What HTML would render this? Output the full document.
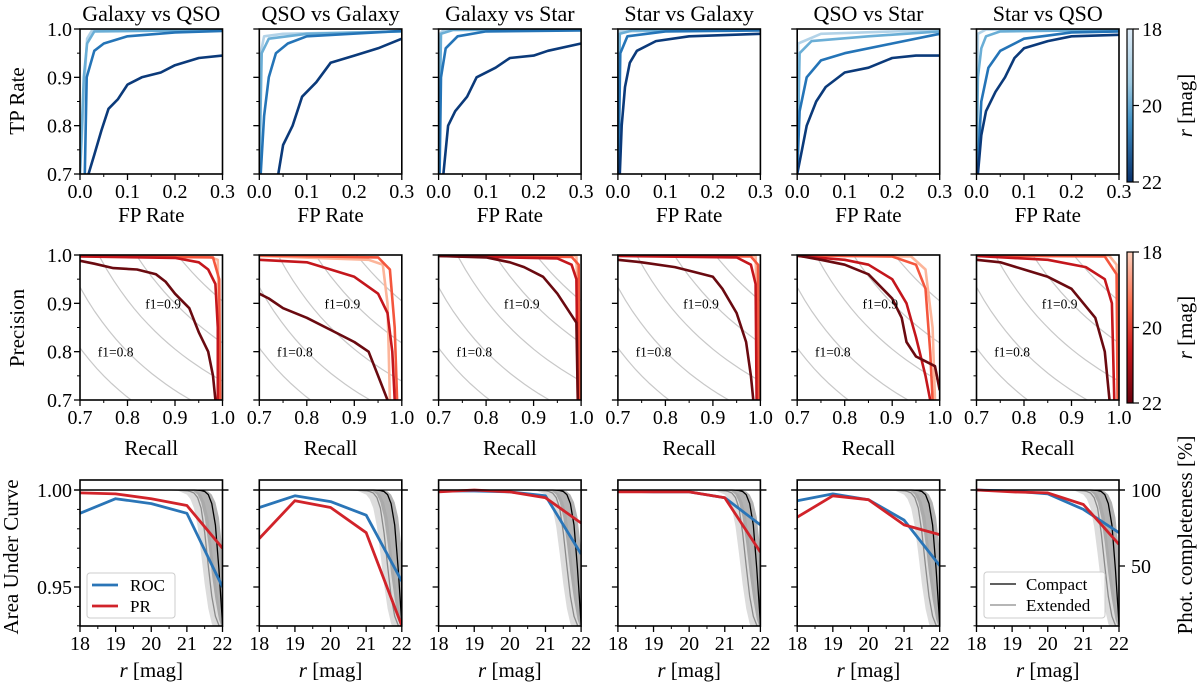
<!DOCTYPE html>
<html><head><meta charset="utf-8"><style>
html,body{margin:0;padding:0;background:#fff;}
svg text{font-family:"Liberation Serif",serif;fill:#000;}
</style></head><body>
<svg id="fig" xmlns="http://www.w3.org/2000/svg" width="1200" height="688" viewBox="0 0 1200 688">
<defs>
<linearGradient id="gBlue" x1="0" y1="0" x2="0" y2="1"><stop offset="0" stop-color="#deebf7"/><stop offset="0.35" stop-color="#9ecae1"/><stop offset="0.6" stop-color="#4292c6"/><stop offset="1" stop-color="#08306b"/></linearGradient>
<linearGradient id="gRed" x1="0" y1="0" x2="0" y2="1"><stop offset="0" stop-color="#fdd0bc"/><stop offset="0.35" stop-color="#fb6a4a"/><stop offset="0.65" stop-color="#cb181d"/><stop offset="1" stop-color="#67000d"/></linearGradient>
</defs>
</svg>
<script>
// ---------- data ----------
const titles = ["Galaxy vs QSO","QSO vs Galaxy","Galaxy vs Star","Star vs Galaxy","QSO vs Star","Star vs QSO"];
const magBins = ["18-19","19-20","20-21","21-22"];
const blueColors = ["#b3d3e8","#6aaed6","#2474b7","#0b3a7a"];
const redColors = ["#fcb59a","#f4563d","#c4161c","#6a0a10"];
// ROC curves [FPR, TPR]
const roc1 = [[[0,0.7],[0.01,0.9],[0.015,0.98],[0.025,0.997],[0.3,0.999]],[[0,0.7],[0.008,0.9],[0.015,0.97],[0.03,0.995],[0.3,0.998]],[[0.01,0.7],[0.014,0.9],[0.03,0.955],[0.05,0.97],[0.1,0.985],[0.2,0.993],[0.3,0.996]],[[0.018,0.7],[0.03,0.74],[0.045,0.79],[0.06,0.835],[0.08,0.855],[0.1,0.885],[0.13,0.9],[0.17,0.91],[0.2,0.925],[0.25,0.94],[0.3,0.945]]];
const roc2 = [[[0,0.7],[0.003,0.95],[0.01,0.985],[0.05,0.99],[0.3,0.995]],[[0,0.7],[0.005,0.95],[0.02,0.98],[0.1,0.99],[0.3,0.995]],[[0.003,0.7],[0.01,0.82],[0.02,0.9],[0.035,0.95],[0.06,0.97],[0.1,0.985],[0.3,0.996]],[[0.04,0.7],[0.05,0.76],[0.07,0.8],[0.09,0.86],[0.12,0.89],[0.15,0.93],[0.2,0.945],[0.25,0.96],[0.3,0.98]]];
const roc3 = [[[0,0.7],[0.003,0.99],[0.01,0.998],[0.3,1.0]],[[0,0.7],[0.005,0.99],[0.03,0.998],[0.3,0.999]],[[0.002,0.7],[0.005,0.9],[0.015,0.96],[0.04,0.985],[0.1,0.995],[0.3,0.997]],[[0.01,0.7],[0.02,0.8],[0.035,0.83],[0.06,0.86],[0.08,0.9],[0.12,0.92],[0.15,0.94],[0.2,0.945],[0.23,0.955],[0.3,0.97]]];
const roc4 = [[[0,0.7],[0.002,0.995],[0.3,0.999]],[[0,0.7],[0.004,0.99],[0.03,0.997],[0.3,0.998]],[[0.001,0.7],[0.005,0.95],[0.02,0.985],[0.1,0.995],[0.3,0.997]],[[0.004,0.7],[0.008,0.8],[0.015,0.88],[0.025,0.93],[0.04,0.955],[0.08,0.975],[0.15,0.985],[0.3,0.99]]];
const roc5 = [[[0,0.7],[0.002,0.97],[0.05,0.99],[0.3,0.998]],[[0,0.7],[0.005,0.95],[0.03,0.975],[0.15,0.985],[0.3,0.995]],[[0,0.7],[0.005,0.83],[0.02,0.9],[0.05,0.935],[0.1,0.95],[0.2,0.97],[0.3,0.99]],[[0,0.7],[0.01,0.75],[0.02,0.8],[0.04,0.85],[0.06,0.88],[0.1,0.91],[0.15,0.92],[0.2,0.94],[0.25,0.945],[0.3,0.945]]];
const roc6 = [[[0,0.7],[0.003,0.99],[0.02,0.999],[0.3,1.0]],[[0,0.7],[0.003,0.9],[0.01,0.96],[0.02,0.985],[0.05,0.995],[0.3,0.998]],[[0.002,0.7],[0.01,0.85],[0.025,0.92],[0.05,0.955],[0.1,0.98],[0.2,0.993],[0.3,0.995]],[[0.003,0.7],[0.01,0.78],[0.02,0.83],[0.04,0.87],[0.06,0.9],[0.08,0.94],[0.1,0.96],[0.15,0.975],[0.2,0.985],[0.3,0.988]]];
// PR curves [Recall, Precision]
const pr1 = [[[0.7,0.998],[0.97,0.997],[0.99,0.99],[0.995,0.7]],[[0.7,0.998],[0.98,0.995],[0.993,0.95],[0.995,0.7]],[[0.7,0.997],[0.9,0.994],[0.95,0.985],[0.97,0.97],[0.985,0.94],[0.99,0.85],[0.99,0.7]],[[0.7,0.988],[0.73,0.982],[0.77,0.973],[0.82,0.97],[0.86,0.96],[0.88,0.945],[0.9,0.92],[0.93,0.89],[0.95,0.84],[0.97,0.8],[0.98,0.75],[0.985,0.7]]];
const pr2 = [[[0.7,0.998],[0.93,0.99],[0.96,0.98],[0.97,0.9],[0.975,0.7]],[[0.7,0.999],[0.95,0.995],[0.975,0.97],[0.985,0.85],[0.99,0.7]],[[0.7,0.99],[0.8,0.985],[0.85,0.97],[0.9,0.955],[0.95,0.92],[0.97,0.88],[0.98,0.8],[0.985,0.7]],[[0.7,0.92],[0.72,0.91],[0.75,0.89],[0.8,0.87],[0.85,0.845],[0.9,0.82],[0.93,0.8],[0.95,0.75],[0.97,0.7]]];
const pr3 = [[[0.7,0.999],[0.99,0.998],[0.998,0.7]],[[0.7,0.999],[0.98,0.996],[0.995,0.98],[0.997,0.7]],[[0.7,0.998],[0.95,0.993],[0.98,0.98],[0.99,0.95],[0.993,0.7]],[[0.7,0.998],[0.8,0.995],[0.85,0.985],[0.88,0.975],[0.92,0.955],[0.95,0.92],[0.97,0.89],[0.99,0.86],[0.993,0.7]]];
const pr4 = [[[0.7,0.999],[0.99,0.998],[0.997,0.7]],[[0.7,0.999],[0.98,0.997],[0.995,0.98],[0.997,0.7]],[[0.7,0.998],[0.95,0.995],[0.98,0.98],[0.99,0.94],[0.992,0.7]],[[0.7,0.99],[0.75,0.985],[0.82,0.975],[0.86,0.965],[0.9,0.955],[0.92,0.93],[0.95,0.88],[0.97,0.82],[0.98,0.75],[0.985,0.7]]];
const pr5 = [[[0.7,0.999],[0.94,0.997],[0.97,0.97],[0.985,0.85],[0.99,0.7]],[[0.7,0.999],[0.9,0.997],[0.95,0.98],[0.97,0.93],[0.98,0.8],[0.985,0.7]],[[0.7,0.998],[0.8,0.99],[0.85,0.98],[0.9,0.95],[0.93,0.9],[0.95,0.83],[0.97,0.75],[0.98,0.7]],[[0.7,0.999],[0.75,0.99],[0.8,0.98],[0.85,0.96],[0.9,0.91],[0.92,0.87],[0.93,0.82],[0.95,0.79],[0.97,0.78],[0.99,0.77],[1.0,0.72]]];
const pr6 = [[[0.7,0.999],[0.98,0.998],[0.995,0.98],[0.998,0.7]],[[0.7,0.999],[0.97,0.997],[0.995,0.96],[0.997,0.7]],[[0.7,0.998],[0.85,0.99],[0.93,0.975],[0.97,0.95],[0.985,0.9],[0.99,0.7]],[[0.7,0.99],[0.75,0.985],[0.8,0.97],[0.85,0.955],[0.9,0.93],[0.95,0.87],[0.97,0.8],[0.98,0.7]]];
const f1Levels = [0.75,0.8,0.85,0.9,0.95];
// AUC vs magnitude
const magCenters = [18,19,20,21,22];
const aucRoc = [[0.988,0.9955,0.993,0.988,0.950],[0.991,0.997,0.994,0.987,0.953],[0.9995,0.9995,0.999,0.997,0.967],[0.9995,0.999,0.999,0.996,0.982],[0.9945,0.998,0.995,0.9845,0.961],[1.0,0.9995,0.998,0.990,0.978]];
const aucPr = [[0.9985,0.998,0.9955,0.992,0.970],[0.975,0.9945,0.991,0.978,0.930],[0.999,1.0,0.999,0.996,0.983],[0.999,0.999,0.999,0.996,0.968],[0.986,0.997,0.995,0.982,0.977],[1.0,0.999,0.9985,0.9925,0.972]];
// photometric completeness [%]
const rGrid = [18,20,20.5,20.75,21,21.1,21.2,21.3,21.4,21.5,21.6,21.7,21.8,21.9,22];
const compact = [100,100,100,100,100,100,100,99.9,99.7,99,97,91,77,48,12];
const compactLo = [100,100,100,100,99.9,99.7,99,97,92,82,65,45,28,15,8];
const compactHi = [100,100,100,100,100,100,100,100,100,99.7,99,97,92,82,60];
const extended = [100,100,100,99.9,99.5,99,98,95,88,72,50,30,17,11,8];
const extLo = [100,100,99.8,99.5,97,94,88,76,58,38,22,12,7,5,4];
const extHi = [100,100,100,100,100,99.8,99.5,99,97,92,82,62,42,25,14];

// ---------- layout ----------
const svg = document.getElementById('fig');
const NS = 'http://www.w3.org/2000/svg';
const colX = [80,259.3,438.6,617.9,797.2,976.5];
const PW = 142.5;
const rows = [{y0:29,y1:174},{y0:255,y1:400},{y0:480,y1:626}];
function el(tag, attrs, parent){const e=document.createElementNS(NS,tag);for(const k in attrs)e.setAttribute(k,attrs[k]);(parent||svg).appendChild(e);return e;}
function txt(s,x,y,size,anchor,parent,rot){const t=el('text',{x:x,y:y,'font-size':size,'text-anchor':anchor||'middle'},parent);if(rot)t.setAttribute('transform','rotate(-90 '+x+' '+y+')');t.textContent=s;return t;}
function lin(a,b,c,d){return v=>c+(v-a)*(d-c)/(b-a);}
function pathOf(pts,sx,sy){return pts.map((p,i)=>(i?'L':'M')+sx(p[0]).toFixed(1)+','+sy(p[1]).toFixed(1)).join('');}
const rocSets=[roc1,roc2,roc3,roc4,roc5,roc6];
const prSets=[pr1,pr2,pr3,pr4,pr5,pr6];
const TICK=20, TITLE=21;

function axesFrame(g,x0,r,xTicks,xMinor,yTicks,yMinor,sx,sy,showY,yFmt,xFmt){
  const fr=el('rect',{x:x0,y:r.y0,width:PW,height:r.y1-r.y0,fill:'none',stroke:'#000','stroke-width':1.6},g);
  
  xMinor.forEach(v=>el('line',{x1:sx(v),x2:sx(v),y1:r.y1,y2:r.y1+3,stroke:'#000','stroke-width':1},g));
  xTicks.forEach(v=>{el('line',{x1:sx(v),x2:sx(v),y1:r.y1,y2:r.y1+6,stroke:'#000','stroke-width':1.3},g);
    const t=txt(xFmt(v),sx(v),r.y1+24,TICK,'middle',g);});
  yMinor.forEach(v=>el('line',{x1:x0,x2:x0-3,y1:sy(v),y2:sy(v),stroke:'#000','stroke-width':1},g));
  yTicks.forEach(v=>{el('line',{x1:x0,x2:x0-6,y1:sy(v),y2:sy(v),stroke:'#000','stroke-width':1.3},g);
    if(showY){const t=txt(yFmt(v),x0-8,sy(v)+7,TICK,'end',g);}});
}

for(let c=0;c<6;c++){
  const x0=colX[c];
  // ---- ROC row ----
  let r=rows[0];
  let g=el('g',{});
  const tt=txt(titles[c],x0+PW/2,21,22,'middle',g);
  let cp=el('clipPath',{id:'cr'+c},g);el('rect',{x:x0,y:r.y0,width:PW,height:r.y1-r.y0},cp);
  let sx=lin(0,0.3,x0,x0+PW), sy=lin(0.7,1.0,r.y1,r.y0);
  const cg=el('g',{'clip-path':'url(#cr'+c+')'},g);
  rocSets[c].forEach((pts,i)=>{const p=el('path',{d:pathOf(pts,sx,sy),fill:'none',stroke:blueColors[i],'stroke-width':2.6,'stroke-linejoin':'round'},cg);
    });
  axesFrame(g,x0,r,[0,0.1,0.2,0.3],[0.05,0.15,0.25],[0.7,0.8,0.9,1.0],[0.75,0.85,0.95],sx,sy,c===0,v=>v.toFixed(1),v=>v.toFixed(1));
  const xl=txt('FP Rate',x0+PW/2,r.y1+48,TITLE,'middle',g);

  // ---- PR row ----
  r=rows[1];
  g=el('g',{});
  cp=el('clipPath',{id:'cp'+c},g);el('rect',{x:x0,y:r.y0,width:PW,height:r.y1-r.y0},cp);
  sx=lin(0.7,1.0,x0,x0+PW); sy=lin(0.7,1.0,r.y1,r.y0);
  const cg2=el('g',{'clip-path':'url(#cp'+c+')'},g);
  f1Levels.forEach(f=>{const pts=[];for(let k=0;k<=40;k++){const rc=f/2+0.001+k*(1-f/2)/40;const pc=f*rc/(2*rc-f);pts.push([rc,pc]);}
    const p=el('path',{d:pathOf(pts.filter(q=>q[1]<1.2),sx,sy),fill:'none',stroke:'#c8c8c8','stroke-width':1.2},cg2);
    });
  prSets[c].forEach((pts,i)=>{const p=el('path',{d:pathOf(pts,sx,sy),fill:'none',stroke:redColors[i],'stroke-width':2.6,'stroke-linejoin':'round'},cg2);
    });
  let a=txt('f1=0.9',sx(0.875),sy(0.9)+5,13.5,'middle',g);
  a=txt('f1=0.8',sx(0.775),sy(0.8)+5,13.5,'middle',g);
  axesFrame(g,x0,r,[0.7,0.8,0.9,1.0],[0.75,0.85,0.95],[0.7,0.8,0.9,1.0],[0.75,0.85,0.95],sx,sy,c===0,v=>v.toFixed(1),v=>v.toFixed(1));
  const xl2=txt('Recall',x0+PW/2,r.y1+55,TITLE,'middle',g);

  // ---- AUC row ----
  r=rows[2];
  g=el('g',{});
  cp=el('clipPath',{id:'ca'+c},g);el('rect',{x:x0,y:r.y0,width:PW,height:r.y1-r.y0},cp);
  sx=lin(18,22,x0,x0+PW); sy=lin(0.95,1.0,587,490); const sc=lin(50,100,566,490);
  const cg3=el('g',{'clip-path':'url(#ca'+c+')'},g);
  function band(lo,hi,col,op,name){const pts=rGrid.map((v,i)=>[v,hi[i]]).concat(rGrid.map((v,i)=>[v,lo[i]]).reverse());
    const p=el('path',{d:pathOf(pts,sx,sc)+'Z',fill:col,'fill-opacity':op,stroke:'none'},cg3);}
  band(extLo,extHi,'#d6d6d6',0.85,'extended-completeness-band');
  band(compactLo,compactHi,'#9a9a9a',0.75,'compact-completeness-band');
  let p=el('path',{d:pathOf(rGrid.map((v,i)=>[v,extended[i]]),sx,sc),fill:'none',stroke:'#8a8a8a','stroke-width':1.3},cg3);
  p=el('path',{d:pathOf(rGrid.map((v,i)=>[v,compact[i]]),sx,sc),fill:'none',stroke:'#000','stroke-width':1.3},cg3);
  el('line',{x1:x0-6,x2:x0+PW+6,y1:sy(1.0),y2:sy(1.0),stroke:'#000','stroke-width':1.3},g);
  p=el('path',{d:pathOf(magCenters.map((m,i)=>[m,aucRoc[c][i]]),sx,sy),fill:'none',stroke:'#2a75b7','stroke-width':2.8,'stroke-linejoin':'round'},cg3);
  p=el('path',{d:pathOf(magCenters.map((m,i)=>[m,aucPr[c][i]]),sx,sy),fill:'none',stroke:'#d1232a','stroke-width':2.8,'stroke-linejoin':'round'},cg3);
  axesFrame(g,x0,r,[18,19,20,21,22],[18.5,19.5,20.5,21.5],[0.95,1.0],[0.93,0.94,0.96,0.97,0.98,0.99],sx,sy,c===0,v=>v.toFixed(2),v=>String(v));
  [100,50].forEach(v=>{el('line',{x1:x0+PW,x2:x0+PW+6,y1:sc(v),y2:sc(v),stroke:'#000','stroke-width':1.3},g);
    if(c===5){const t=txt(String(v),x0+PW+12,sc(v)+7,TICK,'start',g);}});
  const xl3=el('text',{x:x0+PW/2,y:r.y1+51,'font-size':TITLE,'text-anchor':'middle'},g);
  xl3.innerHTML='<tspan font-style="italic">r</tspan> [mag]';
  
}
// legends
let lg=el('g',{});
el('rect',{x:87,y:573,width:88,height:45,rx:3,fill:'#fff','fill-opacity':0.85,stroke:'#ccc'},lg);
el('line',{x1:92,x2:118,y1:585,y2:585,stroke:'#2a75b7','stroke-width':2.8},lg);
el('line',{x1:92,x2:118,y1:606,y2:606,stroke:'#d1232a','stroke-width':2.8},lg);
txt('ROC',130,591,17,'start',lg);txt('PR',130,612,17,'start',lg);
lg=el('g',{});
el('rect',{x:984,y:572,width:121,height:46,rx:3,fill:'#fff','fill-opacity':0.85,stroke:'#ccc'},lg);
el('line',{x1:990,x2:1016,y1:584,y2:584,stroke:'#000','stroke-width':1.3},lg);
el('line',{x1:990,x2:1016,y1:605,y2:605,stroke:'#8a8a8a','stroke-width':1.3},lg);
txt('Compact',1026,590,17,'start',lg);txt('Extended',1026,611,17,'start',lg);
// y axis titles
let t=txt('TP Rate',24,101,TITLE,'middle',null,true);
t=txt('Precision',24,328,TITLE,'middle',null,true);
t=txt('Area Under Curve',18,557,TITLE,'middle',null,true);
t=txt('Phot. completeness [%]',1192,535,TITLE,'middle',null,true);
// colorbars
function colorbar(y0,y1,grad,name){const g=el('g',{});
  el('rect',{x:1127,y:y0,width:6,height:y1-y0,fill:'url(#'+grad+')',stroke:'#000','stroke-width':1.2},g);
  const s=lin(18,22,y0,y1);
  [18,20,22].forEach(v=>{el('line',{x1:1133,x2:1139,y1:s(v),y2:s(v),stroke:'#000','stroke-width':1.2},g);txt(String(v),1142,s(v)+7,TICK,'start',g);});
  const tl=el('text',{x:1192,y:(y0+y1)/2,'font-size':TITLE,'text-anchor':'middle',transform:'rotate(-90 1192 '+((y0+y1)/2)+')'},g);
  tl.innerHTML='<tspan font-style="italic">r</tspan> [mag]';}
colorbar(29,182,'gBlue','roc-colorbar');
colorbar(252,403,'gRed','pr-colorbar');
</script>
</body></html>
